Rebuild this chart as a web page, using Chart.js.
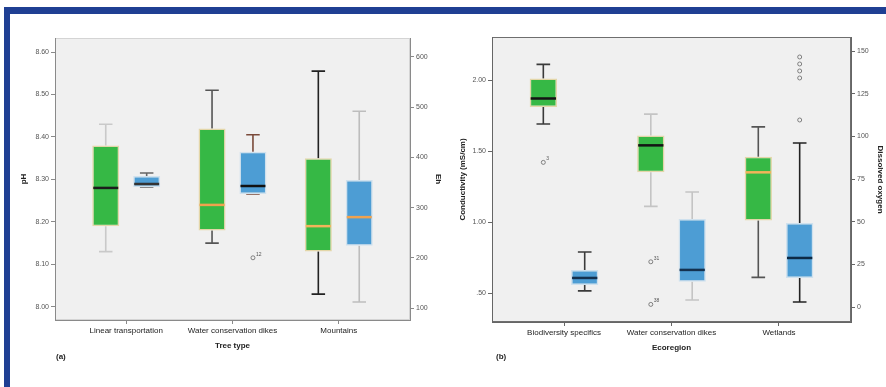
<!DOCTYPE html>
<html>
<head>
<meta charset="utf-8">
<script src="https://cdn.jsdelivr.net/npm/chart.js@4.4.1/dist/chart.umd.min.js"></script>
<style>
  body { margin: 0; background: #fff; width: 886px; height: 387px; overflow: hidden; position: relative; font-family: 'Liberation Sans', Arial, sans-serif; }
  .wrap { position: absolute; top: 0; height: 387px; width: 443px; }
  #frameTop { position: absolute; left: 4px; top: 7px; width: 882px; height: 7px; background: #1f3f93; }
  #frameLeft { position: absolute; left: 4px; top: 7px; width: 6px; height: 380px; background: #1f3f93; }
  .tag { position: absolute; top: 352px; font-size: 8px; font-weight: bold; color: #222; }
</style>
</head>
<body>
<div class="wrap" style="left:0"><canvas id="chartA" width="443" height="387"></canvas></div>
<div class="wrap" style="left:443px"><canvas id="chartB" width="443" height="387"></canvas></div>
<div id="frameTop"></div>
<div id="frameLeft"></div>
<div class="tag" style="left:56px">(a)</div>
<div class="tag" style="left:496px">(b)</div>
<script>
// ---------- panel (a) data ----------
const catsA = ['Linear transportation', 'Water conservation dikes', 'Mountains'];
const phTicks = [8.0, 8.1, 8.2, 8.3, 8.4, 8.5, 8.6];
const ehTicks = [100, 200, 300, 400, 500, 600];
const phMin = [8.13, 8.15, 8.03];
const phQ1 = [8.19, 8.18, 8.13];
const phMedian = [8.28, 8.24, 8.19];
const phQ3 = [8.38, 8.42, 8.35];
const phMax = [8.43, 8.51, 8.555];
const phOutliers = [[], [], []];
const ehMin = [341, 327, 112];
const ehQ1 = [341, 327, 224];
const ehMedian = [347, 343, 281];
const ehQ3 = [363, 411, 355];
const ehMax = [369, 445, 492];
const ehOutliers = [[], [200], []];
const ehOutlierLabels = [[], ['12'], []];

// ---------- panel (b) data ----------
const catsB = ['Biodiversity specifics', 'Water conservation dikes', 'Wetlands'];
const condTicks = [0.5, 1.0, 1.5, 2.0];
const doTicks = [0, 25, 50, 75, 100, 125, 150];
const condMin = [1.69, 1.11, 0.61];
const condQ1 = [1.81, 1.35, 1.01];
const condMedian = [1.87, 1.54, 1.35];
const condQ3 = [2.01, 1.61, 1.46];
const condMax = [2.11, 1.76, 1.67];
const condOutliers = [[1.42], [0.72, 0.42], []];
const condOutlierLabels = [['3'], ['31', '38'], []];
const doMin = [9.5, 4.2, 3.0];
const doQ1 = [13.0, 14.8, 17.1];
const doMedian = [17.1, 21.8, 28.8];
const doQ3 = [21.8, 51.6, 49.3];
const doMax = [32.3, 67.4, 96.1];
const doOutliers = [[], [], [146.5, 142.4, 138.3, 134.2, 109.6]];
const doOutlierLabels = [[], [], []];

const GREEN = '#36b845';
const BLUE = '#4d9dd4';

// plot background + whiskers, medians and outliers drawn through the chart scales
const boxWhiskers = {
  id: 'boxWhiskers',
  beforeDraw(chart, args, opts) {
    const {ctx, chartArea: a} = chart;
    ctx.save();
    ctx.fillStyle = '#f0f0f0';
    ctx.fillRect(a.left, a.top, a.width, a.height);
    ctx.strokeStyle = opts.frame;
    ctx.lineWidth = 1;
    ctx.strokeRect(a.left + 0.5, a.top + 0.5, a.width - 1, a.height - 1);
    ctx.restore();
  },
  beforeDatasetsDraw(chart) {
    const ctx = chart.ctx;
    chart.data.datasets.forEach((ds, i) => {
      const ys = chart.scales[ds.yAxisID];
      chart.getDatasetMeta(i).data.forEach((bar, j) => {
        const x = bar.x, cap = bar.width * 0.5;
        const pMin = ys.getPixelForValue(ds.stats.min[j]);
        const pMax = ys.getPixelForValue(ds.stats.max[j]);
        const pQ1 = ys.getPixelForValue(ds.stats.q1[j]);
        const pQ3 = ys.getPixelForValue(ds.stats.q3[j]);
        ctx.save();
        ctx.strokeStyle = ds.whiskerColors[j];
        ctx.lineWidth = 1.6;
        ctx.beginPath();
        ctx.moveTo(x, pQ3); ctx.lineTo(x, pMax);
        ctx.moveTo(x - cap / 2, pMax); ctx.lineTo(x + cap / 2, pMax);
        ctx.moveTo(x, pQ1); ctx.lineTo(x, pMin);
        ctx.moveTo(x - cap / 2, pMin); ctx.lineTo(x + cap / 2, pMin);
        ctx.stroke();
        ctx.restore();
      });
    });
  },
  afterDatasetsDraw(chart) {
    const ctx = chart.ctx;
    chart.data.datasets.forEach((ds, i) => {
      const ys = chart.scales[ds.yAxisID];
      chart.getDatasetMeta(i).data.forEach((bar, j) => {
        const x = bar.x, w = bar.width;
        const pMed = ys.getPixelForValue(ds.stats.median[j]);
        ctx.save();
        ctx.strokeStyle = ds.medianColors[j];
        ctx.lineWidth = 2.5;
        ctx.beginPath();
        ctx.moveTo(x - w / 2 + 1, pMed); ctx.lineTo(x + w / 2 - 1, pMed);
        ctx.stroke();
        ctx.strokeStyle = '#666';
        ctx.fillStyle = '#555';
        ctx.lineWidth = 0.8;
        ctx.font = '5px "Liberation Sans", Arial';
        ds.stats.outliers[j].forEach((v, k) => {
          const py = ys.getPixelForValue(v);
          ctx.beginPath();
          ctx.arc(x, py, 2, 0, Math.PI * 2);
          ctx.stroke();
          const lbl = ds.stats.labels[j][k];
          if (lbl) ctx.fillText(lbl, x + 3, py - 2);
        });
        ctx.restore();
      });
    });
  }
};

function boxChart(id, o) {
  const axisFont = {family: "'Liberation Sans', Arial", size: 7};
  const titleFont = {family: "'Liberation Sans', Arial", size: 8, weight: 'bold'};
  const makeSet = (st, axis, color, edge, medianColors, whiskerColors) => ({
    yAxisID: axis,
    data: st.q1.map((v, i) => ({x: i, y: [v, st.q3[i]]})),
    backgroundColor: color,
    borderColor: edge,
    borderWidth: 1.5,
    borderSkipped: false,
    categoryPercentage: 0.77,
    barPercentage: 0.66,
    stats: st,
    medianColors: medianColors,
    whiskerColors: whiskerColors
  });
  const yAxis = (pos, ticks, min, max, fmt, title, width, titlePad) => ({
    type: 'linear', position: pos, min: min, max: max,
    afterBuildTicks: s => { s.ticks = ticks.map(v => ({value: v})); },
    afterFit: s => { s.width = width; s.paddingTop = 0; s.paddingBottom = 0; },
    ticks: {callback: fmt, font: axisFont, color: '#555', padding: 2},
    grid: {drawOnChartArea: false, tickLength: 4, color: o.axisColor},
    border: {color: o.axisColor},
    title: {display: true, text: title, font: titleFont, color: '#222', padding: {top: titlePad, bottom: 0}}
  });
  return new Chart(document.getElementById(id), {
    type: 'bar',
    data: {
      datasets: [
        makeSet(o.green, 'y', GREEN, '#e3d6a8', o.greenMedian, o.greenWhisker),
        makeSet(o.blue, 'y2', BLUE, '#cfe1ee', o.blueMedian, o.blueWhisker)
      ]
    },
    options: {
      responsive: false,
      animation: false,
      layout: {padding: {top: o.top, left: 0, right: 0, bottom: o.bottom}},
      plugins: {legend: {display: false}, tooltip: {enabled: false}, boxWhiskers: {frame: o.frame}},
      scales: {
        x: {
          type: 'linear', min: -0.67, max: 2.67, offset: false,
          afterBuildTicks: s => { s.ticks = o.cats.map((c, i) => ({value: i})); },
          afterFit: s => { s.height = 35; s.paddingLeft = 0; s.paddingRight = 0; },
          ticks: {callback: v => o.cats[v], autoSkip: false, maxRotation: 0, minRotation: 0, padding: 2,
                  font: {family: "'Liberation Sans', Arial", size: 8}, color: '#222'},
          grid: {drawOnChartArea: false, offset: false, tickLength: 4, color: o.axisColor},
          border: {color: o.axisColor},
          title: {display: true, text: o.xTitle, font: titleFont, color: '#222', padding: {top: 0, bottom: 4}}
        },
        y: yAxis('left', o.leftTicks, o.leftMin, o.leftMax, o.leftFmt, o.leftTitle, o.leftW, o.leftTitlePad),
        y2: yAxis('right', o.rightTicks, o.rightMin, o.rightMax, o.rightFmt, o.rightTitle, o.rightW, o.rightTitlePad)
      }
    },
    plugins: [boxWhiskers]
  });
}

const spss = v => { const s = v.toFixed(2); return s.startsWith('0') ? s.slice(1) : s; };

boxChart('chartA', {
  cats: catsA, xTitle: 'Tree type',
  top: 38, bottom: 32, frame: '#d4d4d4', axisColor: '#8a8a8a',
  green: {min: phMin, q1: phQ1, median: phMedian, q3: phQ3, max: phMax, outliers: phOutliers, labels: [[], [], []]},
  blue: {min: ehMin, q1: ehQ1, median: ehMedian, q3: ehQ3, max: ehMax, outliers: ehOutliers, labels: ehOutlierLabels},
  greenMedian: ['#1c1c1c', '#f0a24e', '#f2b45a'],
  blueMedian: ['#333333', '#111111', '#f0a24e'],
  greenWhisker: ['#c9c9c9', '#555555', '#222222'],
  blueWhisker: ['#666666', '#7a4a3a', '#bdbdbd'],
  leftTicks: phTicks, leftMin: 7.969, leftMax: 8.633, leftFmt: v => v.toFixed(2), leftTitle: 'pH', leftW: 55, leftTitlePad: 19,
  rightTicks: ehTicks, rightMin: 76.1, rightMax: 637.8, rightFmt: v => String(v), rightTitle: 'Eh', rightW: 33, rightTitlePad: 0
});

boxChart('chartB', {
  cats: catsB, xTitle: 'Ecoregion',
  top: 37, bottom: 30, frame: '#6e6e6e', axisColor: '#666666',
  green: {min: condMin, q1: condQ1, median: condMedian, q3: condQ3, max: condMax, outliers: condOutliers, labels: condOutlierLabels},
  blue: {min: doMin, q1: doQ1, median: doMedian, q3: doQ3, max: doMax, outliers: doOutliers, labels: doOutlierLabels},
  greenMedian: ['#141414', '#141414', '#f2b45a'],
  blueMedian: ['#14314f', '#14314f', '#0d2a45'],
  greenWhisker: ['#3a3a3a', '#c4c4c4', '#555555'],
  blueWhisker: ['#3a3a3a', '#c4c4c4', '#222222'],
  leftTicks: condTicks, leftMin: 0.296, leftMax: 2.303, leftFmt: spss, leftTitle: 'Conductivity (mS/cm)', leftW: 49, leftTitlePad: 15,
  rightTicks: doTicks, rightMin: -8.7, rightMax: 158.2, rightFmt: v => String(v), rightTitle: 'Dissolved oxygen', rightW: 35, rightTitlePad: 1
});
</script>
</body>
</html>
